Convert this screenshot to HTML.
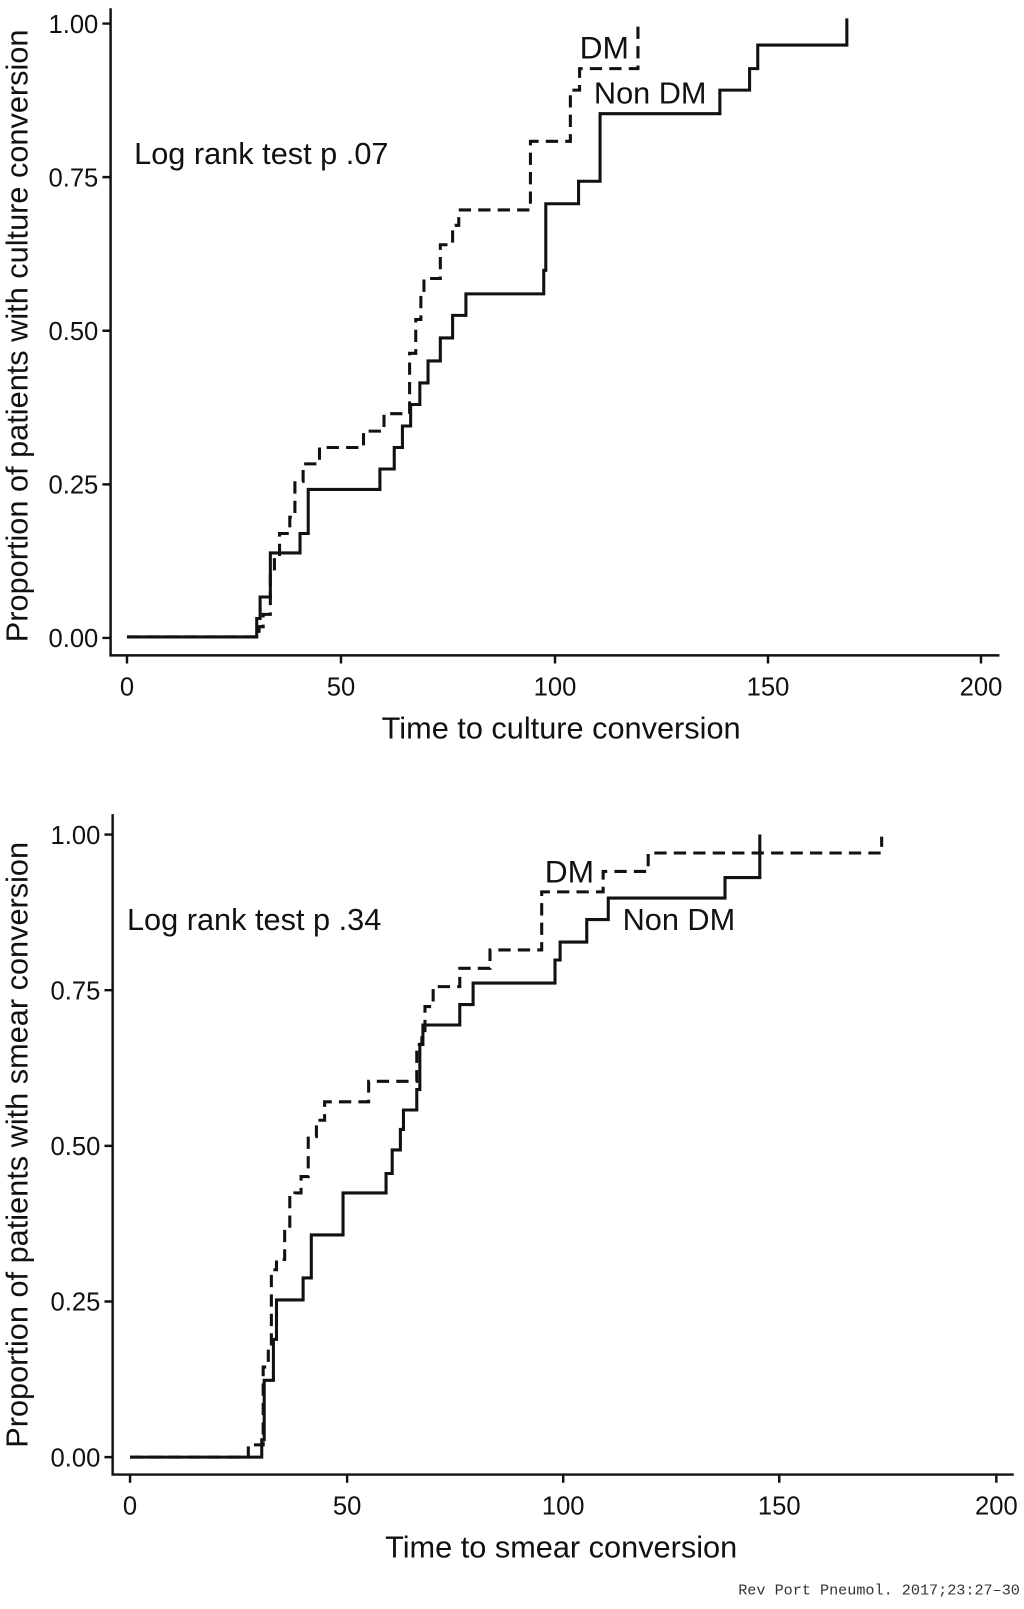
<!DOCTYPE html>
<html><head><meta charset="utf-8"><style>
html,body{margin:0;padding:0;background:#fff;}
svg{display:block;}
text{font-family:"Liberation Sans",sans-serif;fill:#111;}
</style></head><body>
<svg width="1024" height="1609" viewBox="0 0 1000 1571.3" xmlns="http://www.w3.org/2000/svg">
<g stroke="#111" stroke-width="2.4" fill="none">
<path d="M108,8 V640 H976"/>
<path d="M100,23 H108 M100,173 H108 M100,323 H108 M100,473 H108 M100,623 H108"/>
<path d="M124,640 V648 M333,640 V648 M542,640 V648 M750,640 V648 M958,640 V648"/>
<path d="M110,795 V1440 H990"/>
<path d="M102,815 H110 M102,967 H110 M102,1119 H110 M102,1271 H110 M102,1423 H110"/>
<path d="M127,1440 V1448 M339,1440 V1448 M550,1440 V1448 M761,1440 V1448 M973,1440 V1448"/>
</g>
<g stroke="#111" stroke-width="3" fill="none" stroke-linejoin="miter">
<path d="M124,622 H250.7 V604 H254 V583 H264 V540 H293 V521 H301 V478 H371 V458 H385 V437 H393 V416 H401 V395 H410 V374 H418 V352.5 H430 V330 H442 V308 H455 V287 H531 V264 H533 V199 H565 V177 H586 V111 H703 V88 H732 V67 H740 V44 H827 V18"/>
<path stroke-dasharray="12,7" d="M124,622 H253 V612 H257 V600 H264 V560 H268 V545 H273 V521 H283 V505 H288 V470 H296 V453 H312 V437 H355 V421 H375 V404 H400 V345 H406 V312 H411 V285 H414 V272 H430 V239 H442 V220 H448 V205 H518 V138 H557 V88 H566 V67 H623 V22"/>
<path d="M127,1423 H255.6 V1406 H258 V1348 H267 V1308 H270 V1269.5 H296 V1248 H304 V1206 H335 V1165 H377 V1146 H383 V1123 H391 V1103 H394 V1084 H407 V1064 H410 V1020 H413 V1001 H449 V981 H462 V960 H542 V937.5 H547 V920 H573 V898 H594 V877 H708 V857 H742 V815"/>
<path stroke-dasharray="12,7" d="M127,1423 H242.5 V1411 H257 V1335 H262 V1318 H265 V1240 H270 V1230 H278 V1201 H283 V1168 H288 V1165 H294 V1149 H301 V1110 H309 V1094 H311 V1094 H317 V1076 H360 V1056 H407 V1020 H412 V1010 H415 V983 H423 V963.5 H449 V945.6 H478.5 V927.7 H529 V871 H589 V851 H633 V833 H861 V817"/>
</g>
<g font-size="25" text-anchor="end">
<text x="96" y="32">1.00</text><text x="96" y="182">0.75</text><text x="96" y="332">0.50</text><text x="96" y="482">0.25</text><text x="96" y="632">0.00</text>
<text x="98" y="824">1.00</text><text x="98" y="976">0.75</text><text x="98" y="1128">0.50</text><text x="98" y="1280">0.25</text><text x="98" y="1432">0.00</text>
</g>
<g font-size="25" text-anchor="middle">
<text x="124" y="679">0</text><text x="333" y="679">50</text><text x="542" y="679">100</text><text x="750" y="679">150</text><text x="958" y="679">200</text>
<text x="127" y="1479">0</text><text x="339" y="1479">50</text><text x="550" y="1479">100</text><text x="761" y="1479">150</text><text x="973" y="1479">200</text>
</g>
<g font-size="30" text-anchor="middle">
<text x="548" y="721">Time to culture conversion</text>
<text x="548" y="1521">Time to smear conversion</text>
<text transform="translate(27,328) rotate(-90)">Proportion of patients with culture conversion</text>
<text transform="translate(27,1118) rotate(-90)">Proportion of patients with smear conversion</text>
</g>
<g font-size="30">
<text x="131" y="160">Log rank test p .07</text>
<text x="566" y="57" font-size="31">DM</text>
<text x="580" y="101">Non DM</text>
<text x="124" y="908">Log rank test p .34</text>
<text x="532" y="862" font-size="31">DM</text>
<text x="608" y="908">Non DM</text>
</g>
<text x="996" y="1557" text-anchor="end" style="font-family:'Liberation Mono',monospace;font-size:14.8px;fill:#333">Rev Port Pneumol. 2017;23:27–30</text>
</svg>
</body></html>
